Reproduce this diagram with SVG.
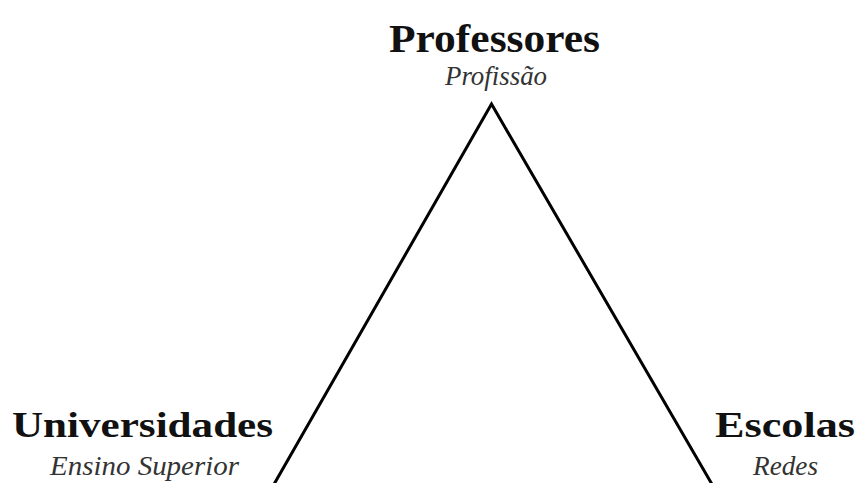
<svg xmlns="http://www.w3.org/2000/svg" width="857" height="483" viewBox="0 0 857 483">
<style>
text{font-family:'Liberation Serif',Times,serif}
.title{font-weight:bold;font-size:41px;fill:#111;text-anchor:middle}
.small{font-size:35px}
.sub{font-style:italic;font-size:27px;fill:#333;text-anchor:middle}
.edge{fill:none;stroke:#000;stroke-width:3;stroke-linejoin:miter}
</style>
<rect width="857" height="483" fill="#fff"/>
<g id="connectors">
<polyline class="edge" points="273,486 491.5,104 713,486"/>
</g>
<g id="node-professores">
<text class="title" x="494.5" y="52" textLength="211" lengthAdjust="spacingAndGlyphs">Professores</text>
<text class="sub" x="496" y="85" textLength="102" lengthAdjust="spacingAndGlyphs">Profissão</text>
</g>
<g id="node-universidades">
<text class="title small" x="142.5" y="437" textLength="261" lengthAdjust="spacingAndGlyphs">Universidades</text>
<text class="sub" x="144.5" y="475" textLength="189" lengthAdjust="spacingAndGlyphs">Ensino Superior</text>
</g>
<g id="node-escolas">
<text class="title small" x="785" y="437" textLength="140" lengthAdjust="spacingAndGlyphs">Escolas</text>
<text class="sub" x="785.5" y="475" textLength="65" lengthAdjust="spacingAndGlyphs">Redes</text>
</g>
</svg>
